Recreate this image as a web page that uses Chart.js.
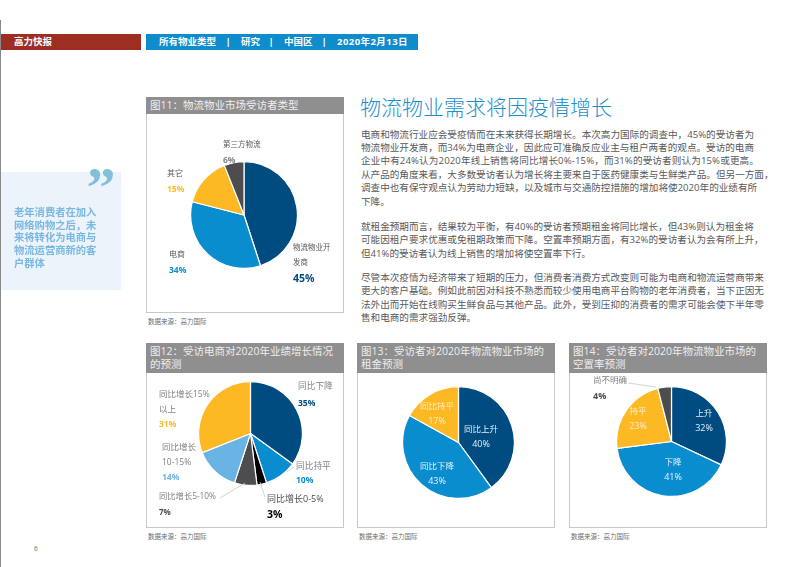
<!DOCTYPE html>
<html lang="zh">
<head>
<meta charset="utf-8">
<title>物流物业需求将因疫情增长</title>
<script src="https://cdn.jsdelivr.net/npm/chart.js@4"></script>
<style>
  html, body { margin: 0; padding: 0; background: #fff; }
  #page { position: relative; width: 802px; height: 567px; overflow: hidden; font-family: "Open Sans", "Noto Sans CJK SC", sans-serif; color: #58595b; }
  #page > * { position: absolute; }
  .txt { white-space: nowrap; line-height: 1; }
  .panel { border: 1px solid #c9c9c9; box-sizing: border-box; background: #fff; }
  .panel-head { background: #8f8f8f; color: #eee; font-size: 10.5px; line-height: 13px; padding: 2px 0 0 4px; box-sizing: border-box; white-space: nowrap; }
  canvas { position: absolute; }
  svg { left: 0; top: 0; pointer-events: none; }
</style>
</head>
<body>
<div id="page"></div>
<script>
// colours used by the pies
const DARK_BLUE = '#004b80', BLUE = '#0a8dcf', YELLOW = '#fdb924', GREY = '#4d4d4f', LIGHT_BLUE = '#69b4e4', BLACK = '#000000';

// fig 11
const fig11Categories = ['物流物业开发商', '电商', '其它', '第三方物流'];
const fig11Values = [45, 34, 15, 6];
const fig11Colors = [DARK_BLUE, BLUE, YELLOW, GREY];

// fig 12
const fig12Categories = ['同比下降', '同比持平', '同比增长0-5%', '同比增长5-10%', '同比增长10-15%', '同比增长15%以上'];
const fig12Values = [35, 10, 3, 7, 14, 31];
const fig12Colors = [DARK_BLUE, BLUE, BLACK, GREY, LIGHT_BLUE, YELLOW];

// fig 13
const fig13Categories = ['同比上升', '同比下降', '同比持平'];
const fig13Values = [40, 43, 17];
const fig13Colors = [DARK_BLUE, BLUE, YELLOW];

// fig 14
const fig14Categories = ['上升', '下降', '持平', '尚不明确'];
const fig14Values = [32, 41, 23, 4];
const fig14Colors = [DARK_BLUE, BLUE, YELLOW, GREY];

const page = document.getElementById('page');

function box(x, y, w, h, bg, cls) {
  const d = document.createElement('div');
  d.style.cssText = `left:${x}px;top:${y}px;width:${w}px;height:${h}px;` + (bg ? `background:${bg};` : '');
  if (cls) d.className = cls;
  page.appendChild(d);
  return d;
}

// y is the vertical centre of the text, anchor is 'l' or 'c'
function text(x, y, str, size, color, bold, anchor) {
  const d = document.createElement('div');
  d.className = 'txt';
  d.textContent = str;
  d.style.cssText = `left:${x}px;top:${y}px;font-size:${size}px;color:${color};font-weight:${bold ? 700 : 400};` +
    `transform:translate(${anchor === 'c' ? '-50%' : '0'},-50%);`;
  page.appendChild(d);
  return d;
}

function panel(x, y, w, h, headH, lines, source) {
  box(x, y, w, h, null, 'panel');
  const head = box(x, y, w, headH, null, 'panel-head');
  head.innerHTML = lines.join('<br>');
  text(x + 2, y + h + 9, source, 6.5, '#6d6e71');
}

function pie(cx, cy, r, labels, values, colors) {
  const size = 2 * r + 2;
  const c = document.createElement('canvas');
  c.width = size;
  c.height = size;
  c.style.left = (cx - size / 2) + 'px';
  c.style.top = (cy - size / 2) + 'px';
  page.appendChild(c);
  new Chart(c.getContext('2d'), {
    type: 'pie',
    data: {
      labels: labels,
      datasets: [{ data: values, backgroundColor: colors, borderColor: '#ffffff', borderWidth: 1.2 }]
    },
    options: {
      responsive: false,
      animation: false,
      layout: { padding: 0 },
      plugins: { legend: { display: false }, tooltip: { enabled: false } }
    }
  });
}

// page furniture
box(0, 20, 1, 547, '#8a8a8a');
box(1, 34, 140, 16, '#9c2f22');
box(146, 34, 272, 16, '#0e8ccb');
text(14, 42, '高力快报', 9.5, '#fff', true);
text(159, 42, '所有物业类型', 9.5, '#fff', true);
text(228, 42, '|', 9.5, '#fff', true, 'c');
text(241, 42, '研究', 9.5, '#fff', true);
text(271, 42, '|', 9.5, '#fff', true, 'c');
text(284, 42, '中国区', 9.5, '#fff', true);
text(324, 42, '|', 9.5, '#fff', true, 'c');
text(337, 42, '2020年2月13日', 9.5, '#fff', true).style.letterSpacing = '0.45px';
text(34, 549, '6', 6.5, '#6d6e71');

// quote box, the big mark is painted on its own small canvas
box(1, 172, 120, 118, '#edf3fa');
const quoteCanvas = document.createElement('canvas');
quoteCanvas.width = 40;
quoteCanvas.height = 50;
quoteCanvas.style.left = '84px';
quoteCanvas.style.top = '160px';
page.appendChild(quoteCanvas);
const quoteCtx = quoteCanvas.getContext('2d');
quoteCtx.font = 'bold 58px "Liberation Serif"';
quoteCtx.fillStyle = '#7fc1d9';
quoteCtx.fillText('”', 2.5, 47);
['老年消费者在加入', '网络购物之后，未', '来将转化为电商与', '物流运营商新的客', '户群体'].forEach((s, i) => {
  text(14, 212 + i * 12.7, s, 10.3, '#79b8e3', true);
});

// article
text(360, 107, '物流物业需求将因疫情增长', 21, '#1b8fca').style.fontWeight = 300;
const para1 = [
  '电商和物流行业应会受疫情而在未来获得长期增长。本次高力国际的调查中，45%的受访者为',
  '物流物业开发商，而34%为电商企业，因此应可准确反应业主与租户两者的观点。受访的电商',
  '企业中有24%认为2020年线上销售将同比增长0%-15%，而31%的受访者则认为15%或更高。',
  '从产品的角度来看，大多数受访者认为增长将主要来自于医药健康类与生鲜类产品。但另一方面，',
  '调查中也有保守观点认为劳动力短缺，以及城市与交通防控措施的增加将使2020年的业绩有所',
  '下降。'
];
const para2 = [
  '就租金预期而言，结果较为平衡，有40%的受访者预期租金将同比增长，但43%则认为租金将',
  '可能因租户要求优惠或免租期政策而下降。空置率预期方面，有32%的受访者认为会有所上升，',
  '但41%的受访者认为线上销售的增加将使空置率下行。'
];
const para3 = [
  '尽管本次疫情为经济带来了短期的压力，但消费者消费方式改变则可能为电商和物流运营商带来',
  '更大的客户基础。例如此前因对科技不熟悉而较少使用电商平台购物的老年消费者，当下正因无',
  '法外出而开始在线购买生鲜食品与其他产品。此外，受到压抑的消费者的需求可能会使下半年零',
  '售和电商的需求强劲反弹。'
];
[[para1, 134.5], [para2, 227], [para3, 278]].forEach(([lines, top]) => {
  lines.forEach((s, i) => {
    const t = text(361, top + i * 13.4, s, 9.6, '#58595b');
    // digits run wider in the original on this line
    if (s.includes('0%-15%')) t.style.letterSpacing = '0.12px';
  });
});

// panels
const SOURCE = '数据来源：高力国际';
panel(146, 97, 198, 216, 17, ['图11：物流物业市场受访者类型'], SOURCE);
panel(146, 343, 198, 185, 30, ['图12：受访电商对2020年业绩增长情况', '的预测'], SOURCE);
panel(357, 343, 198, 185, 30, ['图13：受访者对2020年物流物业市场的', '租金预测'], SOURCE);
panel(569, 343, 198, 185, 30, ['图14：受访者对2020年物流物业市场的', '空置率预测'], SOURCE);

pie(244, 215, 53, fig11Categories, fig11Values, fig11Colors);
pie(250, 433, 51.5, fig12Categories, fig12Values, fig12Colors);
pie(458.5, 442.5, 55.5, fig13Categories, fig13Values, fig13Colors);
pie(671, 441.5, 54.5, fig14Categories, fig14Values, fig14Colors);

// leader lines
const leaders = [[294, 467, 287, 472], [260, 482, 265, 497], [220, 498, 245, 483], [628, 383, 656, 387]];
const svg = document.createElementNS('http://www.w3.org/2000/svg', 'svg');
svg.setAttribute('width', 802);
svg.setAttribute('height', 567);
leaders.forEach(p => {
  const l = document.createElementNS('http://www.w3.org/2000/svg', 'line');
  l.setAttribute('x1', p[0]); l.setAttribute('y1', p[1]);
  l.setAttribute('x2', p[2]); l.setAttribute('y2', p[3]);
  l.setAttribute('stroke', '#c9c9c9');
  l.setAttribute('stroke-width', 0.8);
  svg.appendChild(l);
});
page.appendChild(svg);

// pie labels, outside the slices
const LBL = '#808285';
function outside(x, y, lines, value, color, size, pctSize, step, nameColor) {
  lines.forEach((s, i) => text(x, y + i * step, s, size, nameColor || LBL));
  text(x, y + lines.length * step + 1, value + '%', pctSize, color, true);
}
outside(223, 145, ['第三方物流'], fig11Values[3], '#808285', 7.5, 8.5, 14, '#58595b');
outside(167, 173, ['其它'], fig11Values[2], YELLOW, 8, 8.5, 14.5, '#58595b');
outside(169, 254, ['电商'], fig11Values[1], BLUE, 8, 8.5, 15, '#58595b');
outside(293, 248, ['物流物业开', '发商'], fig11Values[0], DARK_BLUE, 7.5, 10.5, 14.5, '#58595b');

outside(298, 386, ['同比下降'], fig12Values[0], DARK_BLUE, 8.7, 8.5, 15.5);
outside(296, 466, ['同比持平'], fig12Values[1], BLUE, 8.7, 8.5, 12.5);
outside(267, 498, ['同比增长0-5%'], fig12Values[2], BLACK, 9, 10.5, 15, '#4d4d4f');
outside(159, 496, ['同比增长5-10%'], fig12Values[3], GREY, 8.3, 8, 15);
outside(162, 447, ['同比增长', '10-15%'], fig12Values[4], LIGHT_BLUE, 8.5, 8.5, 14.5);
outside(159, 394, ['同比增长15%', '以上'], fig12Values[5], YELLOW, 8.5, 8.5, 14.7);

outside(593, 380, ['尚不明确'], fig14Values[3], GREY, 8.5, 9, 13.5);

// pie labels, inside the slices
function inside(x, y, name, value, color) {
  text(x, y, name, 8.5, color, false, 'c');
  text(x, y + 14, value + '%', 9, color, false, 'c');
}
inside(481, 429, fig13Categories[0], fig13Values[0], '#e6eef5');
inside(437, 466, fig13Categories[1], fig13Values[1], '#e6f2fa');
inside(437, 406, fig13Categories[2], fig13Values[2], '#fdeec8');
inside(704, 413, fig14Categories[0], fig14Values[0], '#e6eef5');
inside(673, 462, fig14Categories[1], fig14Values[1], '#e6f2fa');
inside(638, 411, fig14Categories[2], fig14Values[2], '#fdeec8');
</script>
</body>
</html>
